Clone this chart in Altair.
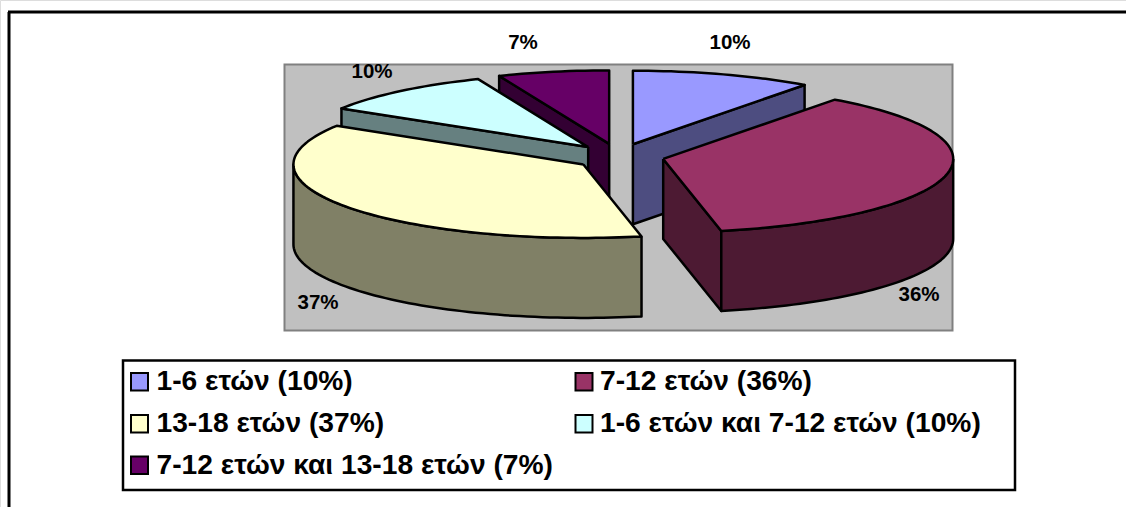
import math

import altair as alt
import pandas as pd

# Age groups and their shares, in the order the pie runs clockwise from 12 o'clock.
categories = [
    "1-6 ετών",
    "7-12 ετών",
    "13-18 ετών",
    "1-6 ετών και 7-12 ετών",
    "7-12 ετών και 13-18 ετών",
]
shares = [10, 36, 37, 10, 7]
top_colors = ["#9999FF", "#993366", "#FFFFCC", "#CCFFFF", "#660066"]
wall_colors = ["#4D4D80", "#4D1A33", "#808066", "#668080", "#330033"]

FONT = "Liberation Sans"
W, H = 1126, 507

# Tilted pie geometry, in canvas pixels.
CX, CY = 619.0, 156.5      # pie centre before slices are pulled apart
RX, RY = 290.0, 73.5       # ellipse radii of a slice's top face
EXPLODE, TILT = 45.0, 0.287
DEPTH = 80.0               # wall height
SKEW = 2.9                 # degrees the perspective adds past the front of the pie


def apparent(deg):
    """Angle as seen through the camera's perspective."""
    t = min(deg / 180.0, 1.0)
    return deg + SKEW * (3 * t * t - 2 * t * t * t)


def rim(apex, deg):
    a = math.radians(deg)
    return apex[0] + RX * math.sin(a), apex[1] - RY * math.cos(a)


def arc(apex, a0, a1):
    n = max(int(abs(a1 - a0) / 1.5), 2)
    return [rim(apex, a0 + (a1 - a0) * i / n) for i in range(n + 1)]


def lowered(pts):
    return [(x, y + DEPTH) for x, y in pts]


def face(points, fill):
    closed = list(points) + [points[0]]
    df = pd.DataFrame(closed, columns=["x", "y"])
    df["i"] = range(len(df))
    return (
        alt.Chart(df)
        .mark_line(fill=fill, stroke="black", strokeWidth=2.5, strokeJoin="round")
        .encode(
            x=alt.X("x:Q", scale=alt.Scale(domain=[0, W]), axis=None),
            y=alt.Y("y:Q", scale=alt.Scale(domain=[H, 0]), axis=None),
            order=alt.Order("i:Q"),
        )
    )


# Slice boundaries and pulled-out apexes, all derived from the shares.
total = sum(shares)
edges, run = [0.0], 0.0
for v in shares:
    run += v / total * 360
    edges.append(run)

slices = []
for k in range(len(shares)):
    mid = math.radians((edges[k] + edges[k + 1]) / 2)
    apex = (CX + EXPLODE * math.sin(mid), CY - EXPLODE * TILT * math.cos(mid))
    a0 = apparent(edges[k])
    a1 = apparent(edges[k + 1]) if k < len(shares) - 1 else 360.0
    slices.append((apex, a0, a1))


def top_face(k):
    apex, a0, a1 = slices[k]
    return face([apex] + arc(apex, a0, a1), top_colors[k])


def radial_wall(k, deg):
    apex = slices[k][0]
    edge = [apex, rim(apex, deg)]
    return face(edge + lowered(edge)[::-1], wall_colors[k])


def outer_wall(k, a0, a1):
    apex = slices[k][0]
    curve = arc(apex, a0, a1)
    return face(curve + lowered(curve)[::-1], wall_colors[k])


B, M, Y, C, P = range(5)
pie_layers = [
    radial_wall(P, slices[P][1]),
    top_face(P),
    radial_wall(B, slices[B][2]),
    top_face(B),
    radial_wall(C, slices[C][1]),
    top_face(C),
    radial_wall(M, slices[M][2]),
    outer_wall(M, 90, slices[M][2]),
    top_face(M),
    outer_wall(Y, slices[Y][1], 270),
    top_face(Y),
]

one = pd.DataFrame({"a": [0]})


def box(x0, x1, y0, y1, fill, stroke, width):
    return alt.Chart(one).mark_rect(fill=fill, stroke=stroke, strokeWidth=width).encode(
        x=alt.value(x0), x2=alt.value(x1), y=alt.value(y0), y2=alt.value(y1)
    )


def rule(x0, x1, y0, y1):
    return alt.Chart(one).mark_rule(color="black", strokeWidth=3).encode(
        x=alt.value(x0), x2=alt.value(x1), y=alt.value(y0), y2=alt.value(y1)
    )


def text(label, x, y, size, align):
    return alt.Chart(pd.DataFrame({"t": [label]})).mark_text(
        font=FONT, fontWeight="bold", fontSize=size, align=align, baseline="middle", color="black"
    ).encode(x=alt.value(x), y=alt.value(y), text="t:N")


# Percentage callouts around the pie.
callout_anchor = [(730, 43), (919, 295), (318, 303), (372, 72), (523, 43)]
callouts = [
    text(f"{v}%", x, y, 20.5, "center") for v, (x, y) in zip(shares, callout_anchor)
]

# Two-column legend, filled row by row.
legend_cols = [(131, 156.5), (575.5, 600)]
legend_rows = [382, 424, 465.5]
legend = [box(123, 1015, 360.5, 490, "white", "black", 2.5)]
for k, (name, v) in enumerate(zip(categories, shares)):
    sx, tx = legend_cols[k % 2]
    ry = legend_rows[k // 2]
    legend.append(box(sx, sx + 17, ry - 9, ry + 8.5, top_colors[k], "black", 2))
    legend.append(text(f"{name} ({v}%)", tx, ry, 28.2, "left"))

layers = (
    [
        rule(8, W, 12, 12),
        rule(9, 9, 12, H),
        box(284.5, 952.5, 64.5, 330.5, "#C0C0C0", "#808080", 2),
    ]
    + pie_layers
    + callouts
    + legend
)

chart = (
    alt.layer(*layers)
    .properties(width=W, height=H, padding=0, autosize=alt.AutoSizeParams(type="none"))
    .configure_view(stroke=None)
    .configure(background="white")
)

chart.save("out.html", embed_options={"renderer": "svg", "actions": False})
